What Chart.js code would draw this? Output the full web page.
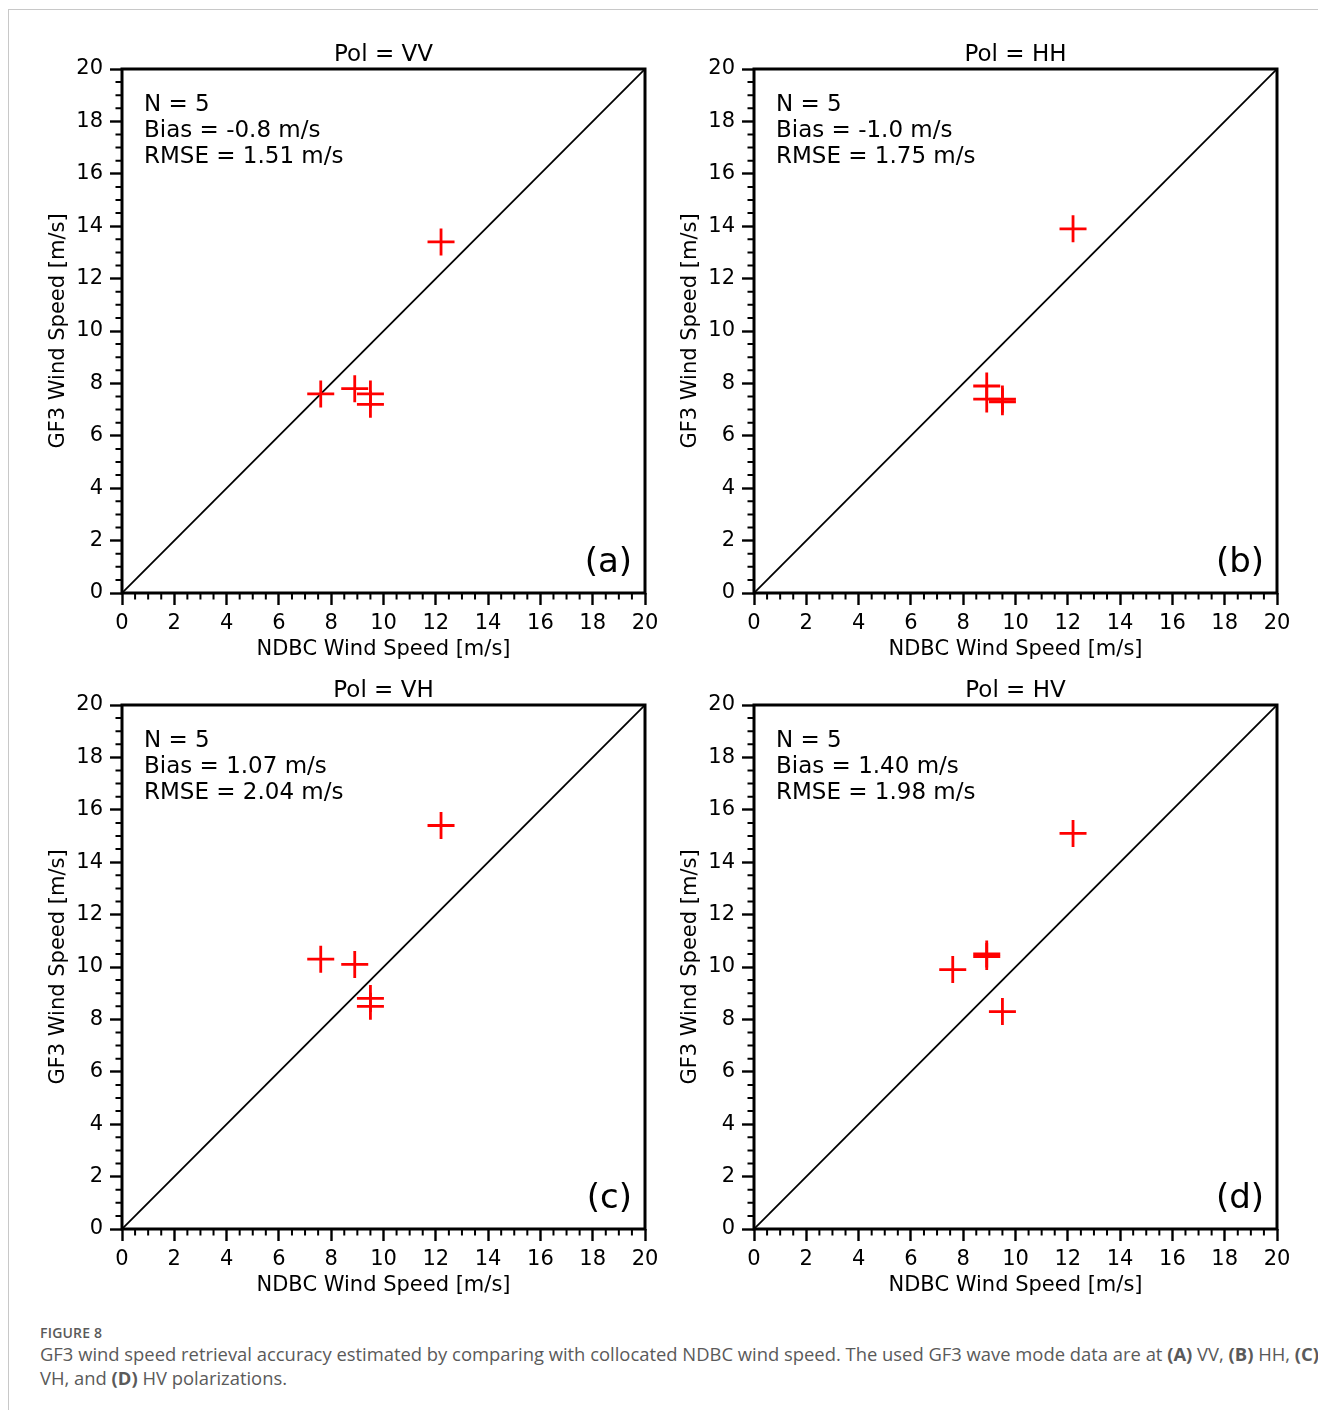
<!DOCTYPE html>
<html>
<head>
<meta charset="utf-8">
<title>GF3 wind speed vs NDBC</title>
<script src="https://cdn.jsdelivr.net/npm/chart.js@4.4.1/dist/chart.umd.min.js"></script>
<style>
  html, body { margin: 0; padding: 0; background: #fff; }
  body { width: 1318px; height: 1410px; position: relative; overflow: hidden; }
  #frame { position: absolute; left: 8px; top: 9px; width: 1320px; height: 1410px;
           border-left: 1px solid #c8c8c8; border-top: 1px solid #c8c8c8; }
  .panel { position: absolute; width: 665px; height: 665px; }
  #caption { position: absolute; left: 40px; top: 1323px; width: 1400px;
             font-family: "Open Sans", sans-serif; color: #5a5a5a; }
  #caption .fig { font-size: 14px; font-weight: 600; letter-spacing: 0.2px; line-height: 19px; }
  #caption .txt { font-size: 18.4px; line-height: 24px; white-space: nowrap; }
  #caption b { font-weight: 700; }
</style>
</head>
<body>
<div id="frame"></div>
<div class="panel" style="left:0px;top:20px"><canvas id="chartVV"></canvas></div>
<div class="panel" style="left:632px;top:20px"><canvas id="chartHH"></canvas></div>
<div class="panel" style="left:0px;top:656px"><canvas id="chartVH"></canvas></div>
<div class="panel" style="left:632px;top:656px"><canvas id="chartHV"></canvas></div>
<div id="caption">
  <div class="fig">FIGURE 8</div>
  <div class="txt">GF3 wind speed retrieval accuracy estimated by comparing with collocated NDBC wind speed. The used GF3 wave mode data are at <b>(A)</b> VV, <b>(B)</b> HH, <b>(C)</b></div>
  <div class="txt">VH, and <b>(D)</b> HV polarizations.</div>
</div>

<script>
// datos de cada polarización (NDBC en x, GF3 en y)
const vvNdbc = [7.6, 8.9, 9.5, 9.5, 12.2];
const vvGf3  = [7.6, 7.8, 7.6, 7.2, 13.4];
const hhNdbc = [8.9, 8.9, 9.5, 9.5, 12.2];
const hhGf3  = [7.9, 7.4, 7.4, 7.3, 13.9];
const vhNdbc = [7.6, 8.9, 9.5, 9.5, 12.2];
const vhGf3  = [10.3, 10.1, 8.8, 8.5, 15.4];
const hvNdbc = [7.6, 8.9, 8.9, 9.5, 12.2];
const hvGf3  = [9.9, 10.5, 10.4, 8.3, 15.1];

const vvStats = ['N = 5', 'Bias = -0.8 m/s', 'RMSE = 1.51 m/s'];
const hhStats = ['N = 5', 'Bias = -1.0 m/s', 'RMSE = 1.75 m/s'];
const vhStats = ['N = 5', 'Bias = 1.07 m/s', 'RMSE = 2.04 m/s'];
const hvStats = ['N = 5', 'Bias = 1.40 m/s', 'RMSE = 1.98 m/s'];

const axisMin = 0;
const axisMax = 20;
const majorStep = 2;
const minorStep = 0.5;

const FONT = '"DejaVu Sans", sans-serif';
Chart.defaults.color = '#000';
Chart.defaults.font.family = FONT;

// marco, ticks menores y textos dentro del panel
const decorPlugin = {
    id: 'decor',
    afterDraw(chart, args, opts) {
        const { ctx, chartArea: a, scales: { x, y } } = chart;
        ctx.save();
        ctx.strokeStyle = '#000';
        ctx.lineWidth = 2;
        ctx.beginPath();
        for (let v = axisMin; v <= axisMax; v += minorStep) {
            if (v % majorStep === 0) continue;
            const px = x.getPixelForValue(v);
            ctx.moveTo(px, a.bottom);
            ctx.lineTo(px, a.bottom + 6.5);
            const py = y.getPixelForValue(v);
            ctx.moveTo(a.left - 6.5, py);
            ctx.lineTo(a.left, py);
        }
        ctx.stroke();

        ctx.lineWidth = 3;
        ctx.strokeRect(a.left, a.top, a.right - a.left, a.bottom - a.top);

        ctx.fillStyle = '#000';
        ctx.textBaseline = 'alphabetic';
        ctx.textAlign = 'left';
        ctx.font = '23px ' + FONT;
        opts.lines.forEach((t, i) => {
            ctx.fillText(t, a.left + 22, a.top + 42 + i * 26);
        });

        ctx.textAlign = 'right';
        ctx.font = '34px ' + FONT;
        ctx.fillText(opts.tag, a.right - 13, a.bottom - 21);
        ctx.restore();
    }
};

function crearPanel(id, pol, ndbc, gf3, lines, tag) {
    const puntos = ndbc.map((v, i) => ({ x: v, y: gf3[i] }));
    const diagonal = [{ x: axisMin, y: axisMin }, { x: axisMax, y: axisMax }];

    return new Chart(document.getElementById(id), {
        type: 'scatter',
        data: {
            datasets: [
                {
                    data: diagonal,
                    showLine: true,
                    borderColor: '#000',
                    borderWidth: 1.8,
                    pointRadius: 0,
                    order: 2
                },
                {
                    data: puntos,
                    pointStyle: 'cross',
                    pointRadius: 13.5,
                    pointHoverRadius: 13.5,
                    pointBorderWidth: 2.8,
                    borderColor: '#ff0000',
                    backgroundColor: '#ff0000',
                    order: 1
                }
            ]
        },
        options: {
            responsive: true,
            maintainAspectRatio: false,
            animation: false,
            events: [],
            layout: { padding: { left: 0, right: 20, top: 0, bottom: 0 } },
            plugins: {
                legend: { display: false },
                tooltip: { enabled: false },
                title: {
                    display: true,
                    fullSize: false,
                    text: 'Pol = ' + pol,
                    font: { size: 23, weight: 'normal' },
                    padding: { top: 20.8, bottom: 0.6 }
                },
                decor: { lines: lines, tag: tag }
            },
            scales: {
                x: {
                    type: 'linear',
                    min: axisMin,
                    max: axisMax,
                    afterFit: s => { s.height = 92; },
                    border: { display: false },
                    grid: { drawOnChartArea: false, drawTicks: true, tickLength: 12, tickWidth: 2.4, tickColor: '#000' },
                    ticks: { stepSize: majorStep, autoSkip: false, maxRotation: 0, padding: 6, font: { size: 21 } },
                    title: { display: true, text: 'NDBC Wind Speed [m/s]', font: { size: 21 }, padding: { top: 0, bottom: 23 } }
                },
                y: {
                    type: 'linear',
                    min: axisMin,
                    max: axisMax,
                    afterFit: s => { s.width = 122; },
                    border: { display: false },
                    grid: { drawOnChartArea: false, drawTicks: true, tickLength: 12, tickWidth: 2.4, tickColor: '#000' },
                    ticks: { stepSize: majorStep, autoSkip: false, padding: 7, font: { size: 21 } },
                    title: { display: true, text: 'GF3 Wind Speed [m/s]', font: { size: 21 }, padding: { top: 46, bottom: 0 } }
                }
            }
        },
        plugins: [decorPlugin]
    });
}

crearPanel('chartVV', 'VV', vvNdbc, vvGf3, vvStats, '(a)');
crearPanel('chartHH', 'HH', hhNdbc, hhGf3, hhStats, '(b)');
crearPanel('chartVH', 'VH', vhNdbc, vhGf3, vhStats, '(c)');
crearPanel('chartHV', 'HV', hvNdbc, hvGf3, hvStats, '(d)');
</script>
</body>
</html>
